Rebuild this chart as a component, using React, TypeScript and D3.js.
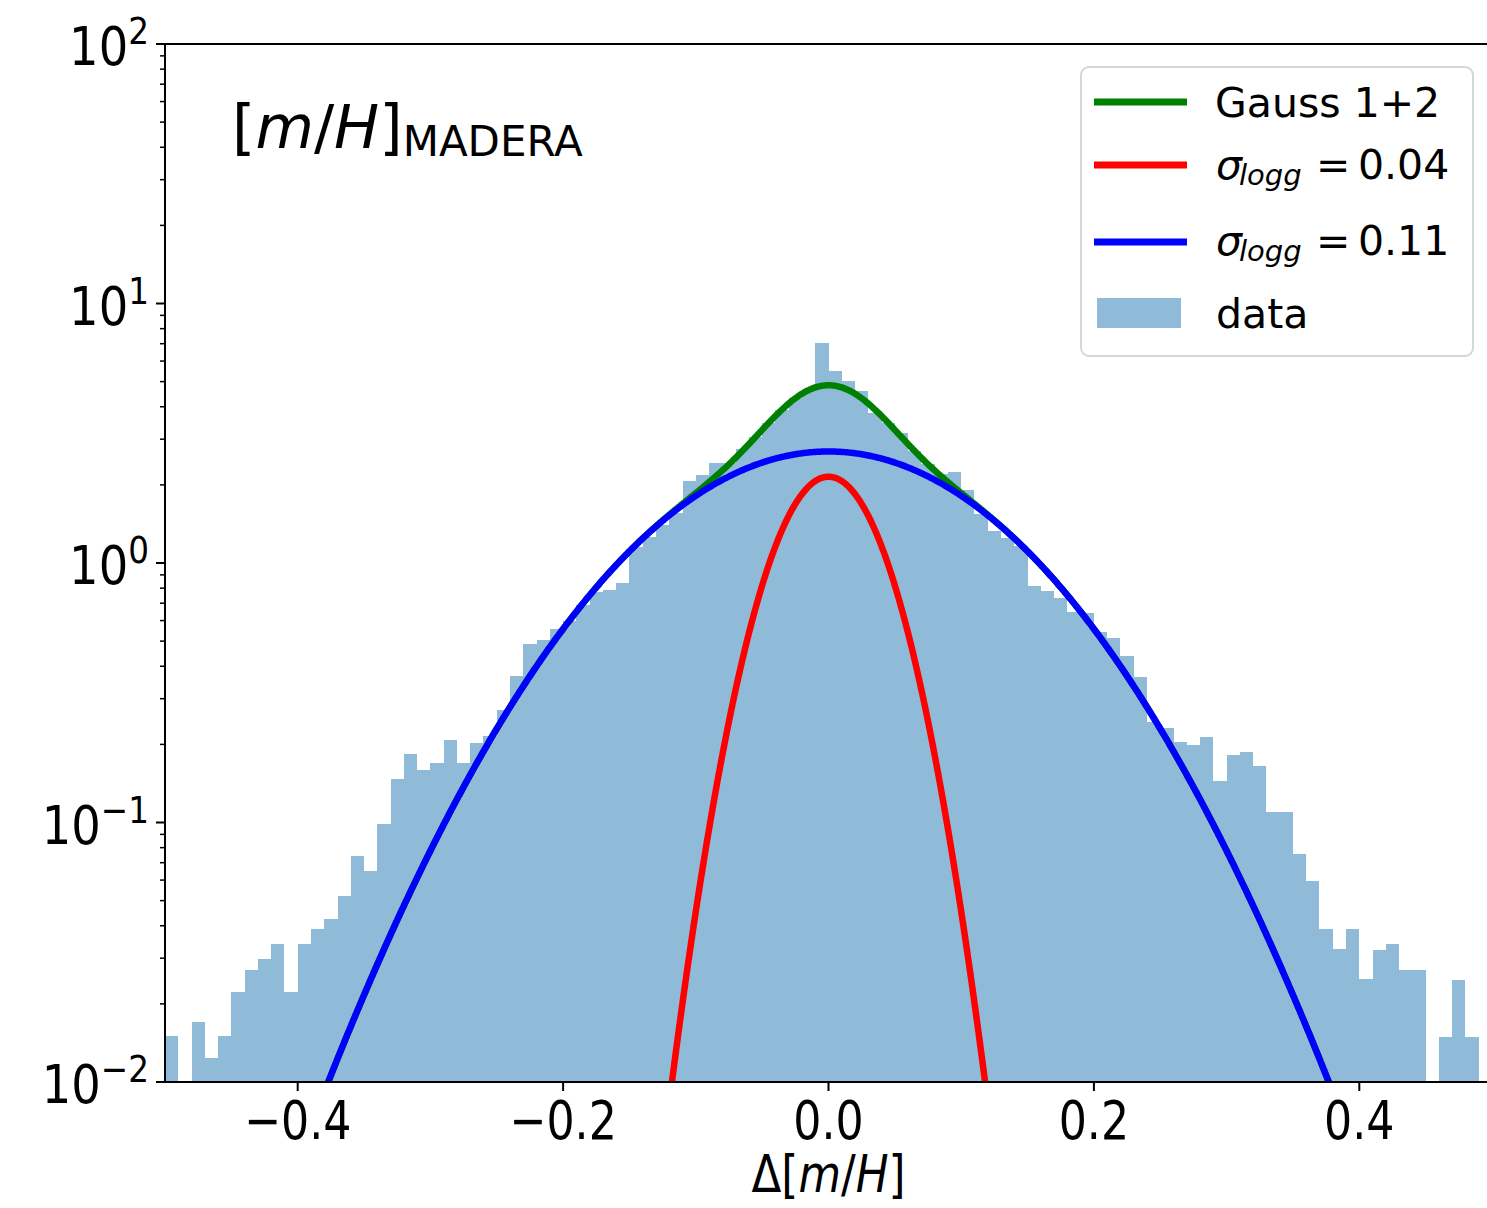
import React, { useEffect, useRef } from "react";
import * as d3 from "d3";

const WIDTH = 1487;
const HEIGHT = 1208;

// histogram: 100 bins of 0.01 from -0.5 to 0.5 (density, log y)
const binStart = -0.5;
const binWidth = 0.01;
const counts = [
  0.015, 0, 0.0171, 0.0124, 0.015, 0.0223, 0.0269, 0.0299, 0.034, 0.0223,
  0.034, 0.0389, 0.0424, 0.0523, 0.074, 0.0648, 0.0989, 0.1475, 0.183, 0.16,
  0.17, 0.2085, 0.17, 0.203, 0.215, 0.272, 0.366, 0.489, 0.504, 0.559,
  0.6, 0.69, 0.776, 0.79, 0.834, 1.148, 1.254, 1.395, 1.552, 2.063,
  2.176, 2.42, 2.42, 2.74, 3.06, 3.47, 3.88, 4.31, 4.64, 7.02,
  5.48, 5.01, 4.59, 3.77, 3.45, 3.16, 2.7, 2.4, 2.2, 2.234,
  1.905, 1.54, 1.327, 1.25, 1.158, 0.814, 0.778, 0.734, 0.65, 0.639,
  0.541, 0.514, 0.44, 0.364, 0.245, 0.231, 0.2036, 0.1983, 0.2136, 0.1449,
  0.1825, 0.1875, 0.1645, 0.11, 0.11, 0.0758, 0.0596, 0.0389, 0.0325, 0.0389,
  0.0249, 0.0323, 0.034, 0.0269, 0.0269, 0, 0.0149, 0.0248, 0.0149, 0,
];

// fitted gaussians (narrow, broad)
const fitMean = 0;
const fitAmp = [2.15, 2.69];
const fitSigma = [0.036, 0.1127];

const xTicks = [-0.4, -0.2, 0.0, 0.2, 0.4];
const xTickLabels = ["\u22120.4", "\u22120.2", "0.0", "0.2", "0.4"];
const yTicks = [0.01, 0.1, 1, 10, 100];
const yTickExps = ["\u22122", "\u22121", "0", "1", "2"];
const sigmaLabels = ["0.04", "0.11"];

const FONT = "DejaVu Sans, sans-serif";

function gauss(x: number, a: number, s: number) {
  return a * Math.exp(-((x - fitMean) ** 2) / (2 * s * s));
}

export default function App() {
  const ref = useRef<SVGSVGElement | null>(null);

  useEffect(() => {
    const margin = { top: 44, left: 165, bottom: 1082, right: 1492 };
    const svg = d3.select(ref.current);
    svg.selectAll("*").remove();

    const x = d3.scaleLinear().domain([-0.5, 0.5]).range([margin.left, margin.right]);
    const y = d3.scaleLog().domain([0.01, 100]).range([margin.bottom, margin.top]);

    svg
      .append("defs")
      .append("clipPath")
      .attr("id", "plot")
      .append("rect")
      .attr("x", margin.left)
      .attr("y", margin.top)
      .attr("width", margin.right - margin.left)
      .attr("height", margin.bottom - margin.top);

    const plot = svg.append("g").attr("clip-path", "url(#plot)");

    // histogram bars
    const bins = counts.map((v, i) => ({ x0: binStart + i * binWidth, v }));
    plot
      .append("g")
      .selectAll("rect")
      .data(bins.filter((d) => d.v > 0))
      .join("rect")
      .attr("x", (d) => x(d.x0))
      .attr("width", (d) => x(d.x0 + binWidth) - x(d.x0))
      .attr("y", (d) => y(d.v))
      .attr("height", (d) => margin.bottom - y(d.v))
      .attr("fill", "#1f77b4")
      .attr("fill-opacity", 0.5)
      .attr("shape-rendering", "crispEdges");

    // gaussian curves: sum, narrow, broad
    const xs = d3.range(-0.5, 0.5001, 0.001);
    const curves = [
      { color: "green", f: (t: number) => gauss(t, fitAmp[0], fitSigma[0]) + gauss(t, fitAmp[1], fitSigma[1]) },
      { color: "red", f: (t: number) => gauss(t, fitAmp[0], fitSigma[0]) },
      { color: "blue", f: (t: number) => gauss(t, fitAmp[1], fitSigma[1]) },
    ];
    curves.forEach((c) => {
      const path = d3
        .line<number>()
        .x((t) => x(t))
        .y((t) => y(Math.max(1e-5, c.f(t))));
      plot
        .append("path")
        .attr("d", path(xs))
        .attr("fill", "none")
        .attr("stroke", c.color)
        .attr("stroke-width", 6.5)
        .attr("stroke-linejoin", "round");
    });

    // spines
    const axes = svg.append("g").attr("stroke", "black").attr("stroke-width", 2);
    axes.append("line").attr("x1", margin.left).attr("x2", margin.left).attr("y1", margin.top).attr("y2", margin.bottom);
    axes.append("line").attr("x1", margin.left).attr("x2", margin.right).attr("y1", margin.bottom).attr("y2", margin.bottom);
    axes.append("line").attr("x1", margin.left).attr("x2", margin.right).attr("y1", margin.top).attr("y2", margin.top);

    // x ticks
    xTicks.forEach((t, i) => {
      axes.append("line").attr("x1", x(t)).attr("x2", x(t)).attr("y1", margin.bottom).attr("y2", margin.bottom + 9);
      svg
        .append("text")
        .attr("transform", `translate(${x(t)},1139) scale(0.82,1)`)
        .attr("text-anchor", "middle")
        .attr("font-family", FONT)
        .attr("font-size", 54)
        .text(xTickLabels[i]);
    });

    // y ticks, major + minor
    yTicks.forEach((t, i) => {
      axes.append("line").attr("x1", margin.left - 9).attr("x2", margin.left).attr("y1", y(t)).attr("y2", y(t));
      if (i < yTicks.length - 1) {
        d3.range(2, 10).forEach((m) => {
          axes
            .append("line")
            .attr("stroke-width", 1.5)
            .attr("x1", margin.left - 5)
            .attr("x2", margin.left)
            .attr("y1", y(t * m))
            .attr("y2", y(t * m));
        });
      }
      const lab = svg
        .append("text")
        .attr("transform", `translate(149,${y(t) + 21}) scale(0.86,1)`)
        .attr("text-anchor", "end")
        .attr("font-family", FONT)
        .attr("font-size", 54);
      lab.append("tspan").text("10");
      lab.append("tspan").attr("dy", -21).attr("font-size", 38).text(yTickExps[i]);
    });

    // x label
    const xl = svg
      .append("text")
      .attr("transform", `translate(${x(0)},1192) scale(0.84,1)`)
      .attr("text-anchor", "middle")
      .attr("font-family", FONT)
      .attr("font-size", 52);
    xl.append("tspan").text("\u0394[");
    xl.append("tspan").attr("font-style", "italic").text("m");
    xl.append("tspan").text("/");
    xl.append("tspan").attr("font-style", "italic").text("H");
    xl.append("tspan").text("]");

    // annotation
    const ann = svg
      .append("text")
      .attr("x", 232)
      .attr("y", 148)
      .attr("font-family", FONT)
      .attr("font-size", 60);
    ann.append("tspan").text("[");
    ann.append("tspan").attr("font-style", "italic").text("m");
    ann.append("tspan").text("/");
    ann.append("tspan").attr("font-style", "italic").text("H");
    ann.append("tspan").text("]");
    ann.append("tspan").attr("dy", 8).attr("font-size", 42).text("MADERA");

    // legend
    const lg = svg.append("g");
    lg.append("rect")
      .attr("x", 1081)
      .attr("y", 67)
      .attr("width", 392)
      .attr("height", 289)
      .attr("rx", 8)
      .attr("fill", "white")
      .attr("fill-opacity", 0.8)
      .attr("stroke", "#d6d6d6")
      .attr("stroke-width", 2);

    const legendRows = [
      { color: "green", y: 102, base: 117 },
      { color: "red", y: 165, base: 179 },
      { color: "blue", y: 242, base: 255 },
    ];
    legendRows.forEach((r) => {
      lg.append("line")
        .attr("x1", 1094)
        .attr("x2", 1187)
        .attr("y1", r.y)
        .attr("y2", r.y)
        .attr("stroke", r.color)
        .attr("stroke-width", 7);
    });
    lg.append("text")
      .attr("x", 1215)
      .attr("y", legendRows[0].base)
      .attr("font-family", FONT)
      .attr("font-size", 41)
      .text("Gauss 1+2");
    [legendRows[1], legendRows[2]].forEach((r, i) => {
      const t = lg.append("g").attr("font-family", FONT).attr("font-size", 41);
      t.append("text").attr("x", 1216).attr("y", r.base).attr("font-style", "italic").text("\u03c3");
      t.append("text")
        .attr("x", 1239)
        .attr("y", r.base + 6)
        .attr("font-style", "italic")
        .attr("font-size", 29)
        .text("logg");
      t.append("text").attr("x", 1316).attr("y", r.base).text("=");
      t.append("text").attr("x", 1358).attr("y", r.base).text(sigmaLabels[i]);
    });
    lg.append("rect")
      .attr("x", 1097)
      .attr("y", 298)
      .attr("width", 84)
      .attr("height", 30)
      .attr("fill", "#1f77b4")
      .attr("fill-opacity", 0.5);
    lg.append("text")
      .attr("x", 1216)
      .attr("y", 328)
      .attr("font-family", FONT)
      .attr("font-size", 41)
      .text("data");
  }, []);

  return (
    <svg
      ref={ref}
      width={WIDTH}
      height={HEIGHT}
      style={{ position: "absolute", left: 0, top: 0, background: "white" }}
    />
  );
}
